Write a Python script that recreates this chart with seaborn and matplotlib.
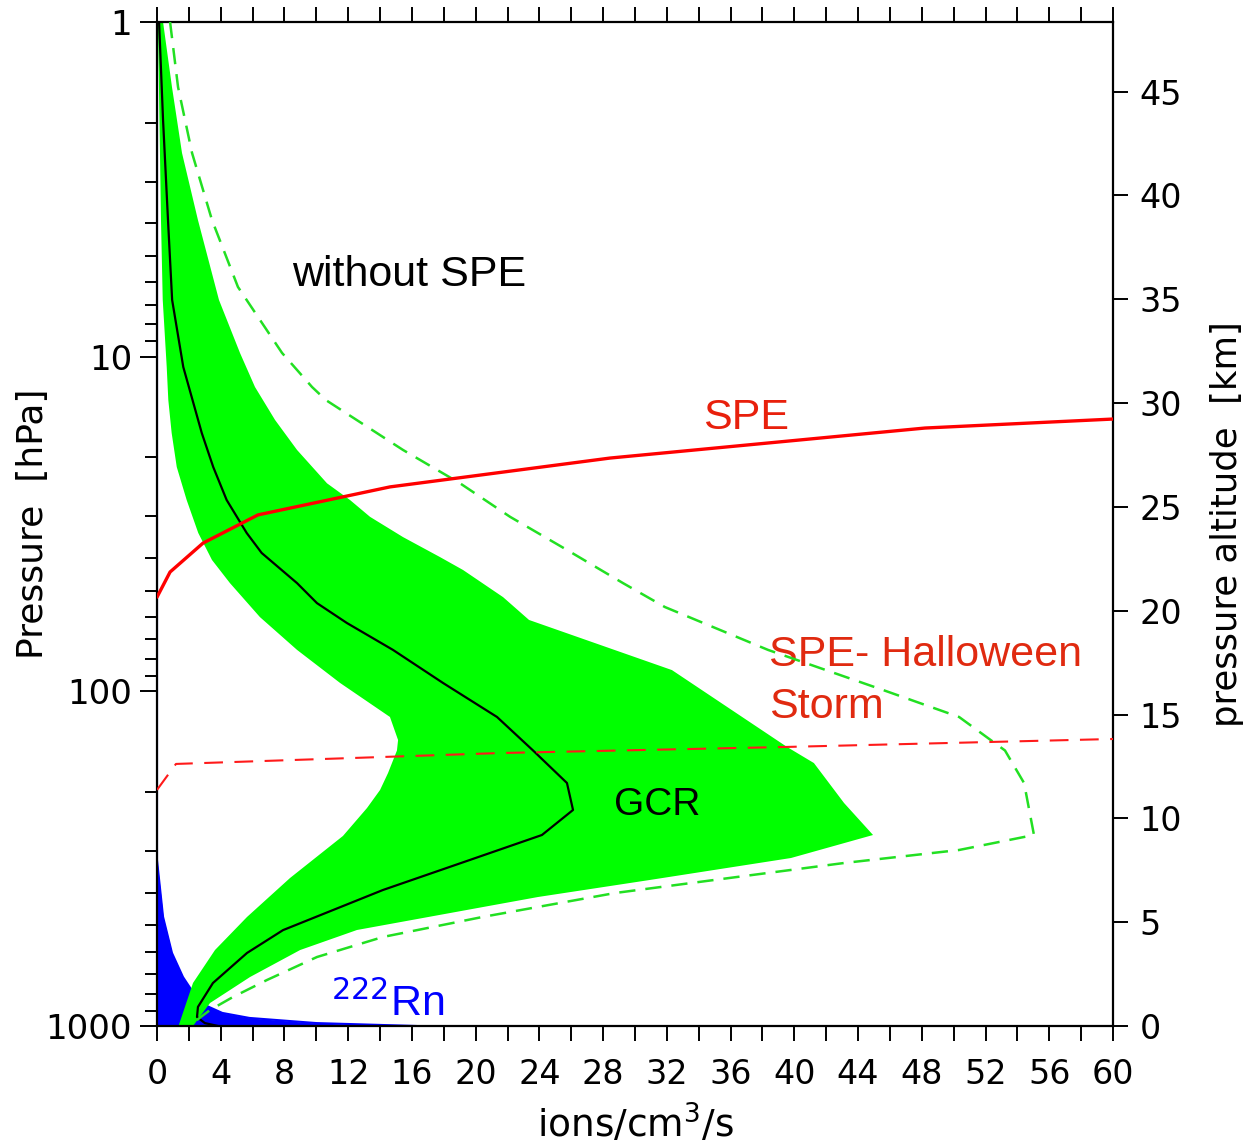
import numpy as np
import pandas as pd
import matplotlib
matplotlib.use("Agg")
import matplotlib.pyplot as plt
import seaborn as sns

# ---------------- data ----------------
# GCR band, inner (left) edge, top -> bottom
gcr_left_p = [1.0, 3.905, 6.77, 10.74, 13.48, 16.91, 21.37, 26.8, 33.64, 40.5, 47.5, 60.0, 75.2,
              94.4, 119.3, 139.8, 150.2, 175.4, 197.1, 223.2, 270.5, 361.2, 472.3, 592.9,
              743.7, 1000.0]
gcr_left_x = [0.06, 0.25, 0.36, 0.61, 0.71, 0.92, 1.24, 1.86, 2.59, 3.45, 4.58, 6.46, 8.79,
              11.49, 14.62, 15.13, 15.06, 14.50, 14.0, 13.18, 11.67, 8.35, 5.65, 3.64,
              2.26, 1.35]
# GCR band, outer (right) edge, top -> tip -> bottom
gcr_right_p = [1.0, 1.564, 2.463, 3.905, 6.77, 9.75, 12.32, 15.46, 19.0, 23.9, 26.8, 30.1,
               34.6, 39.7, 43.4, 52.3, 61.2, 86.4, 146.6, 163.8, 215.6, 268.7, 314.8, 366.1,
               411.7, 516.6, 593.0, 713.9, 853.6, 1000.0]
gcr_right_x = [0.38, 0.94, 1.57, 2.57, 3.89, 5.21, 6.15, 7.41, 8.79, 10.67, 12.11, 13.37,
               15.44, 17.76, 19.21, 21.72, 23.35, 32.32, 39.54, 41.23, 43.12, 44.94, 39.79,
               30.94, 23.91, 12.55, 8.98, 5.84, 3.33, 2.26]
# GCR mean profile (black)
gcr_mean_p = [1.0, 1.963, 3.905, 6.77, 10.74, 16.91, 21.37, 26.8, 33.64, 38.6, 47.5, 54.5,
              62.5, 75.2, 94.4, 119.3, 150.2, 187.9, 226.2, 268.7, 319.0, 392.3, 517.0, 605.0,
              744.0, 877.0, 940.0, 980.0, 1000.0]
gcr_mean_x = [0.13, 0.38, 0.69, 0.95, 1.65, 2.81, 3.53, 4.37, 5.63, 6.57, 8.79, 10.04,
              11.92, 14.81, 17.95, 21.34, 23.60, 25.73, 26.11, 24.16, 19.64, 14.18, 7.91,
              5.65, 3.51, 2.57, 2.51, 3.0, 3.83]
# GCR maximum (green dashed)
gcr_max_p = [1.0, 1.564, 2.463, 3.905, 6.19, 9.75, 12.32, 13.48, 19.0, 23.9, 30.1, 37.8,
             47.5, 56.0, 75.2, 99.1, 119.3, 150.2, 188.0, 268.7, 297.9, 325.8, 361.0, 400.5,
             472.0, 542.0, 622.1, 728.8, 819.0, 895.6, 960.0]
gcr_max_x = [0.82, 1.32, 2.2, 3.45, 5.08, 7.85, 9.73, 10.6, 15.44, 19.02, 22.16, 25.73,
             29.25, 31.88, 38.35, 45.57, 50.34, 53.22, 54.42, 55.04, 50.34, 43.12, 35.96,
             28.75, 20.46, 14.18, 10.04, 6.90, 4.77, 3.33, 2.5]
# SPE (red solid)
spe_p = [52.3, 44.0, 36.06, 29.7, 24.5, 20.09, 16.34, 15.36]
spe_x = [0.0, 0.82, 2.89, 6.34, 14.62, 28.43, 48.2, 60.0]
# SPE Halloween storm (red dashed)
halloween_p = [197.0, 164.8, 152.9, 146.6, 138.8]
halloween_x = [0.0, 1.19, 21.5, 39.54, 60.0]
# 222Rn (blue)
rn_p = [1.0, 319.0, 472.0, 605.0, 714.0, 853.0, 914.0, 946.0, 980.0, 1000.0]
rn_x = [0.0, 0.0, 0.38, 0.94, 1.63, 2.7, 4.1, 5.8, 10.0, 16.3]

scale_height_km = 7.0
x_ticks = list(range(0, 61, 2))
x_labels = [str(v) if v % 4 == 0 else "" for v in x_ticks]
p_major = [1, 10, 100, 1000]
km_ticks = list(range(0, 46, 5))

# ---------------- figure ----------------
sns.set_theme(style="white")
plt.rcParams["font.family"] = ["DejaVu Sans"]
plt.rcParams["text.color"] = "black"
plt.rcParams["axes.labelcolor"] = "black"
plt.rcParams["xtick.color"] = "black"
plt.rcParams["ytick.color"] = "black"
fig = plt.figure(figsize=(12.49, 11.46), dpi=100)
ax = fig.add_axes([157 / 1249, 1 - 1026 / 1146, 956 / 1249, 1004 / 1146])

GREEN = "#00ff00"
ax.set_yscale("log")

# blue Rn area
ax.fill_betweenx(rn_p, 0, rn_x, color="#0000ff", lw=0, zorder=1)
sns.lineplot(x=rn_x, y=rn_p, sort=False, estimator=None, color="#0000ff", lw=1.5, ax=ax, zorder=1.5)

# green band polygon
band = pd.DataFrame({"x": gcr_left_x + gcr_right_x[::-1], "p": gcr_left_p + gcr_right_p[::-1]})
ax.fill(band["x"], band["p"], color=GREEN, lw=0, zorder=2)

sns.lineplot(x=gcr_mean_x, y=gcr_mean_p, sort=False, estimator=None, color="black", lw=1.6, ax=ax, zorder=4)
gd = sns.lineplot(x=gcr_max_x, y=gcr_max_p, sort=False, estimator=None, color="#22e022", lw=1.8, ax=ax, zorder=4)
gd.lines[-1].set_dashes([6.5, 4])
sns.lineplot(x=spe_x, y=spe_p, sort=False, estimator=None, color="#ff0000", lw=2.4, ax=ax, zorder=5)
hl = sns.lineplot(x=halloween_x, y=halloween_p, sort=False, estimator=None, color="#ff1a1a", lw=1.5, ax=ax, zorder=5)
hl.lines[-1].set_dashes([9, 5.5])

ax.set_xlim(0, 60)
ax.set_ylim(1000, 1)

# axes styling
for s in ax.spines.values():
    s.set_color("black")
    s.set_linewidth(1.6)
ax.set_xticks(x_ticks)
ax.set_xticklabels(x_labels)
ax.set_yticks(p_major)
ax.set_yticklabels([str(v) for v in p_major])
ax.yaxis.set_minor_locator(matplotlib.ticker.LogLocator(base=10, subs=np.arange(2, 10)))
ax.yaxis.set_minor_formatter(matplotlib.ticker.NullFormatter())
ax.tick_params(axis="x", which="both", direction="out", top=True, bottom=True, labeltop=False,
               length=11, width=1.4, labelsize=24, pad=12, color="black", labelcolor="black")
ax.tick_params(axis="y", which="major", direction="out", left=True, length=12, width=1.4,
               labelsize=24.5, pad=6, color="black", labelcolor="black")
ax.tick_params(axis="y", which="minor", direction="out", left=True, length=9, width=1.4, color="black")
ax.grid(False)

ax.set_xlabel("ions/cm$^3$/s", fontsize=27, labelpad=8)
ax.set_ylabel("Pressure  [hPa]", fontsize=26, labelpad=-3)

# right axis: pressure altitude
ax2 = ax.twinx()
ax2.set_ylim(0, scale_height_km * np.log(1000.0))
ax2.set_yticks(km_ticks)
ax2.set_yticklabels([str(v) for v in km_ticks])
ax2.tick_params(axis="y", direction="out", right=True, length=11, width=1.4, labelsize=24, pad=8,
                color="black", labelcolor="black")
ax2.set_ylabel("pressure altitude  [km]", fontsize=25.5, labelpad=20)
ax2.grid(False)
for s in ax2.spines.values():
    s.set_visible(False)

# annotations
tf = ["Liberation Sans", "DejaVu Sans"]
ax.text(8.5, 5.70, "without SPE", fontsize=31, color="black", family=tf, va="center")
ax.text(34.3, 15.3, "SPE", fontsize=31, color="#e8200c", family=tf, va="center")
ax.text(38.4, 77.9, "SPE- Halloween", fontsize=31, color="#e02a10", family=tf, va="center")
ax.text(38.4, 111.4, "Storm", fontsize=31, color="#e02a10", family=tf, va="center")
ax.text(28.7, 219, "GCR", fontsize=28, color="black", family=tf, va="center")
ax.text(10.9, 860, "$^{222}$Rn", fontsize=31, color="#0000ff", family=tf, va="center")

fig.savefig("out.png", dpi=100)
